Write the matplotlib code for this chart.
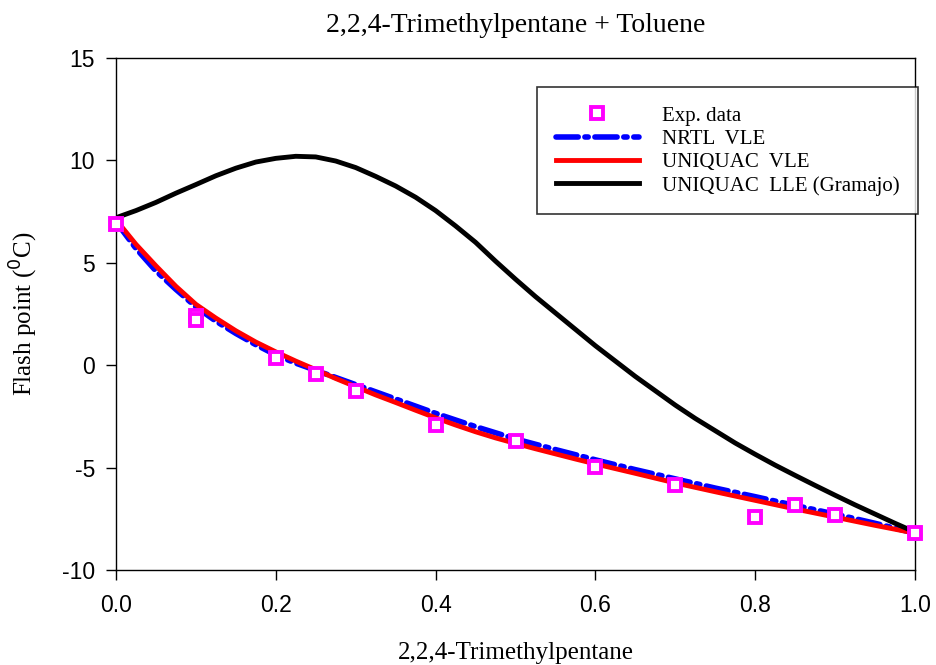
import matplotlib
matplotlib.use("Agg")
import matplotlib.pyplot as plt

# Experimental data
exp_x = [0.0, 0.1, 0.1, 0.2, 0.25, 0.3, 0.4, 0.5, 0.6, 0.7, 0.8, 0.85, 0.9, 1.0]
exp_y = [6.9, 2.4, 2.2, 0.35, -0.43, -1.27, -2.92, -3.7, -4.97, -5.86, -7.41, -6.83, -7.3, -8.2]

# NRTL VLE model curve
nrtl_x = [0.0, 0.025, 0.05, 0.075, 0.1, 0.125, 0.15, 0.175, 0.2, 0.225, 0.25, 0.275,
          0.3, 0.35, 0.4, 0.45, 0.5, 0.55, 0.6, 0.65, 0.7, 0.75, 0.8, 0.85, 0.9, 0.95, 1.0]
nrtl_vle = [7.0, 5.7, 4.6, 3.7, 2.85, 2.15, 1.55, 1.0, 0.5, 0.1, -0.25, -0.6,
            -0.95, -1.65, -2.35, -3.0, -3.6, -4.12, -4.62, -5.1, -5.55, -6.0, -6.42,
            -6.85, -7.27, -7.72, -8.2]

# UNIQUAC VLE model curve
uvle_x = [0.0, 0.025, 0.05, 0.075, 0.1, 0.125, 0.15, 0.175, 0.2, 0.225, 0.25, 0.275,
          0.3, 0.325, 0.35, 0.375, 0.4, 0.425, 0.45, 0.475, 0.5, 0.525, 0.55, 0.575,
          0.6, 0.65, 0.7, 0.75, 0.8, 0.85, 0.9, 0.95, 1.0]
uniquac_vle = [7.1, 5.9, 4.85, 3.85, 2.97, 2.3, 1.68, 1.13, 0.65, 0.2, -0.22, -0.65,
               -1.05, -1.45, -1.82, -2.2, -2.57, -2.92, -3.25, -3.55, -3.82, -4.08,
               -4.33, -4.58, -4.82, -5.28, -5.75, -6.18, -6.6, -7.02, -7.42, -7.82, -8.2]

# UNIQUAC LLE (Gramajo) model curve
ulle_x = [0.0, 0.025, 0.05, 0.075, 0.1, 0.125, 0.15, 0.175, 0.2, 0.225, 0.25, 0.275,
          0.3, 0.325, 0.35, 0.375, 0.4, 0.425, 0.45, 0.475, 0.5, 0.525, 0.55, 0.575,
          0.6, 0.625, 0.65, 0.675, 0.7, 0.725, 0.75, 0.775, 0.8, 0.825, 0.85, 0.875,
          0.9, 0.925, 0.95, 0.975, 1.0]
uniquac_lle = [7.2, 7.55, 7.95, 8.4, 8.82, 9.25, 9.62, 9.92, 10.1, 10.2, 10.17, 9.97,
               9.65, 9.22, 8.75, 8.2, 7.55, 6.8, 6.0, 5.08, 4.2, 3.35, 2.55, 1.75,
               0.95, 0.2, -0.55, -1.25, -1.95, -2.6, -3.2, -3.8, -4.35, -4.88, -5.38,
               -5.87, -6.35, -6.82, -7.27, -7.72, -8.15]

xticks = [0.0, 0.2, 0.4, 0.6, 0.8, 1.0]
yticks = [-10, -5, 0, 5, 10, 15]

serif = "Liberation Serif"
sans = "Liberation Sans"

fig = plt.figure(figsize=(9.36, 6.65), dpi=100)
ax = fig.add_axes([116/936, 1-570/665, (915-116)/936, (570-58)/665])

ax.plot(nrtl_x, nrtl_vle, color="#0000ff", lw=4, dashes=(4, 1.2, 0.6, 1.2),
        dash_capstyle="round", label="NRTL  VLE", zorder=3)
ax.plot(uvle_x, uniquac_vle, color="#ff0000", lw=3.5, label="UNIQUAC  VLE", zorder=4)
ax.plot(ulle_x, uniquac_lle, color="black", lw=3.5, label="UNIQUAC  LLE (Gramajo)", zorder=4)
ax.plot(exp_x, exp_y, ls="none", marker="s", ms=9, mfc="white", mec="#ff00ff",
        mew=2.8, label="Exp. data", zorder=5, clip_on=False)

ax.set_xlim(0, 1)
ax.set_ylim(-10, 15)
ax.set_xticks(xticks)
ax.set_xticklabels([f"{v:.1f}" for v in xticks], fontfamily=sans, fontsize=16.5)
ax.set_yticks(yticks)
ax.set_yticklabels([str(v) for v in yticks], fontfamily=sans, fontsize=16.5)
ax.tick_params(direction="out", length=7, width=1, top=False, right=False)
ax.tick_params(axis="x", pad=10)
ax.tick_params(axis="y", pad=8)
for s in ax.spines.values():
    s.set_linewidth(1)

ax.set_title("2,2,4-Trimethylpentane + Toluene", fontfamily=serif, fontsize=20, pad=19)
ax.set_xlabel("2,2,4-Trimethylpentane", fontfamily=serif, fontsize=18, labelpad=18)
ax.set_ylabel(r"Flash point ($^{0}$C)", fontfamily=serif, fontsize=18, labelpad=16)

h, l = ax.get_legend_handles_labels()
order = [3, 0, 1, 2]
leg = ax.legend([h[i] for i in order], [l[i] for i in order],
                loc="upper right", bbox_to_anchor=(1.004, 0.943), borderaxespad=0,
                prop={"family": serif, "size": 15}, frameon=True, fancybox=False,
                edgecolor="black", handlelength=4.0, borderpad=0.9, labelspacing=0.18,
                handletextpad=1.1)
leg.get_frame().set_linewidth(1.2)

fig.savefig("out.png", dpi=100)
